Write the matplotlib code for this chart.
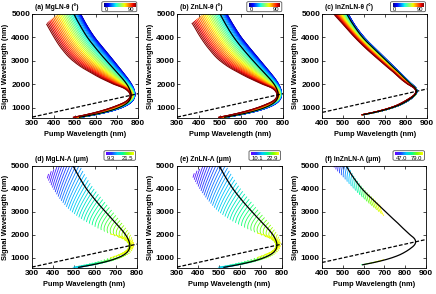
import numpy as np
import matplotlib
matplotlib.use("Agg")
import matplotlib.pyplot as plt
from matplotlib.patches import FancyBboxPatch
from matplotlib.colors import LinearSegmentedColormap

plt.rcParams['font.family'] = ['Liberation Sans', 'DejaVu Sans']

W, H = 436, 294

# ---------------- data ----------------
# upper-branch readings (signal nm -> pump nm); first entry = degeneracy point
mg_outer_sig = [1568, 2000, 2500, 3000, 3500, 4000, 4500, 5000, 5500]
mg_outer_pump = [784, 768, 728, 684, 638, 594, 558, 528, 500]
mg_inner_sig = [1522, 1800, 2000, 2500, 3000, 3500, 4000, 4573]
mg_inner_pump = [761, 738, 684, 575, 492, 440, 403, 367]
mg_black_sig = [1532, 2000, 2500, 3000, 3500, 4000, 4500, 5000, 5400]
mg_black_pump = [766, 746, 700, 650, 603, 560, 526, 496, 475]

zn_outer_sig = [1584, 2000, 2500, 3000, 3500, 4000, 4500, 5000, 5500]
zn_outer_pump = [792, 778, 738, 692, 646, 602, 566, 534, 506]
zn_inner_sig = [1540, 1800, 2000, 2500, 3000, 3500, 4000, 4600]
zn_inner_pump = [770, 752, 702, 588, 502, 450, 410, 370]
zn_black_sig = [1552, 2000, 2500, 3000, 3500, 4000, 4500, 5000, 5400]
zn_black_pump = [776, 757, 709, 658, 610, 567, 532, 502, 480]

in_outer_sig = [1704, 2000, 2500, 3000, 3500, 4000, 4500, 5000, 5500]
in_outer_pump = [852, 828, 771, 713, 655, 600, 557, 524, 495]
in_inner_sig = [1692, 2000, 2500, 3000, 3500, 4000, 4500, 5000, 5400]
in_inner_pump = [846, 808, 742, 676, 612, 555, 505, 455, 430]
in_black_sig = [1700, 2000, 2500, 3000, 3500, 4000, 4500, 5000, 5400]
in_black_pump = [850, 824, 766, 707, 648, 593, 551, 517, 495]

# relative position of each theta curve between theta=0 (outer) and theta=90 (inner)
theta_deg = [0, 3, 6, 9, 12, 15, 18, 21, 24, 27, 30, 33, 36, 39, 42, 45,
             48, 51, 54, 57, 60, 63, 66, 69, 72, 75, 78, 81, 84, 87, 90]
theta_frac = [0.0, 0.0014, 0.0055, 0.0123, 0.0219, 0.0341, 0.0489, 0.0664,
              0.0865, 0.109, 0.134, 0.1613, 0.191, 0.2229, 0.2569, 0.2929,
              0.3309, 0.3707, 0.4122, 0.4554, 0.5, 0.546, 0.5933, 0.6416,
              0.691, 0.7412, 0.7921, 0.8436, 0.8955, 0.9477, 1.0]

lam_ranges = {'d': (9.3, 21.5), 'e': (10.1, 22.9), 'f': (47.0, 79.0)}
sig_min = {'mg': 590, 'zn': 590, 'in': 700}

titles = ['(a) MgLN-θ (°)', '(b) ZnLN-θ (°)', '(c) InZnLN-θ (°)',
          '(d) MgLN-Λ (μm)', '(e) ZnLN-Λ (μm)', '(f) InZnLN-Λ (μm)']
xlims = [(300, 800), (300, 800), (400, 900), (300, 800), (300, 800), (400, 900)]
ylim = (560, 5000)


# ---------------- helpers ----------------
def pchip(xk, yk, x):
    xk = np.asarray(xk, float)
    yk = np.asarray(yk, float)
    h = np.diff(xk)
    d = np.diff(yk) / h
    n = len(xk)
    m = np.zeros(n)
    m[0], m[-1] = d[0], d[-1]
    for j in range(1, n - 1):
        if d[j - 1] * d[j] > 0:
            w1 = 2 * h[j] + h[j - 1]
            w2 = h[j] + 2 * h[j - 1]
            m[j] = (w1 + w2) / (w1 / d[j - 1] + w2 / d[j])
    x = np.clip(x, xk[0], xk[-1])
    idx = np.clip(np.searchsorted(xk, x) - 1, 0, n - 2)
    t = (x - xk[idx]) / h[idx]
    h00 = 2 * t ** 3 - 3 * t ** 2 + 1
    h10 = t ** 3 - 2 * t ** 2 + t
    h01 = -2 * t ** 3 + 3 * t ** 2
    h11 = t ** 3 - t ** 2
    return (h00 * yk[idx] + h10 * h[idx] * m[idx] + h01 * yk[idx + 1]
            + h11 * h[idx] * m[idx + 1])


def table(pump, sig):
    p = np.asarray(pump, float)
    s = np.asarray(sig, float)
    nu = 1000.0 / p
    d = nu / 2 - 1000.0 / s
    d[0] = 0.0
    return d, nu


def sample(tb, u):
    d, nu = tb
    D = u * d[-1]
    N = pchip(d ** 2, nu, D ** 2)
    return D, N


def blend(outer, inner, f, u):
    Do, No = sample(outer, u)
    Di, Ni = sample(inner, u)
    D = (1 - f) * Do + f * Di
    N = (1 - f) * No + f * Ni
    x = 1000.0 / N
    y = 1000.0 / (N / 2 - D)
    return x, y, N, D


def clean(x, y, N, D, smin, u):
    partner = 1000.0 / (N / 2 + np.abs(D))
    bad = (y < smin) | (partner < 400) | (np.abs(u) > 1.0)
    y = np.array(y, float)
    y[bad] = np.nan
    return x, y


edges = {
    'mg': (table(mg_outer_pump, mg_outer_sig), table(mg_inner_pump, mg_inner_sig),
           table(mg_black_pump, mg_black_sig)),
    'zn': (table(zn_outer_pump, zn_outer_sig), table(zn_inner_pump, zn_inner_sig),
           table(zn_black_pump, zn_black_sig)),
    'in': (table(in_outer_pump, in_outer_sig), table(in_inner_pump, in_inner_sig),
           table(in_black_pump, in_black_sig)),
}

lam_cmap = LinearSegmentedColormap.from_list(
    'lam', ['#6a00ff', '#1f3cff', '#00c8ff', '#00ff90', '#80ff00', '#ffff00'])
jet = plt.get_cmap('jet')

fig = plt.figure(figsize=(W / 100, H / 100), dpi=100)

rects = [(32.3, 138.3, 14, 118), (177.3, 283.3, 14, 118), (322.3, 427, 14, 118),
         (32, 137, 166, 268), (177, 282, 166, 268), (322, 426, 166, 268)]
keys = ['mg', 'zn', 'in', 'mg', 'zn', 'in']
letters = ['a', 'b', 'c', 'd', 'e', 'f']

u = np.linspace(-1, 1, 1601)

for i, (l, r, t, b) in enumerate(rects):
    ax = fig.add_axes([l / W, 1 - b / H, (r - l) / W, (b - t) / H])
    key = keys[i]
    outer, inner, black = edges[key]
    smin = sig_min[key]
    if i < 3:
        for th, fr in zip(theta_deg, theta_frac):
            x, y, N, D = blend(outer, inner, fr, u)
            x, y = clean(x, y, N, D, smin, u)
            ax.plot(x, y, color=jet(th / 90), lw=0.75, zorder=2)
    else:
        lo, hi = lam_ranges[letters[i]]
        if letters[i] == 'f':
            n_str, u_top, u_bot, tilt, pw = 26, 1.03, 0.45, 0.15, 1.0
        else:
            n_str, u_top, u_bot, tilt, pw = 44, 1.12, -0.12, 0.2, 1.3
        lam_levels = np.linspace(lo, hi, n_str)
        fs = np.linspace(0, 1, 40)
        for lam in lam_levels:
            c = (lam - lo) / (hi - lo)
            uc = u_bot + (u_top - u_bot) * (1 - c) ** (1 / pw)
            col = lam_cmap(c)
            uu = uc + tilt * (0.5 - fs)
            for sgn in (1, -1):
                x, y, N, D = blend(outer, inner, fs, sgn * uu)
                x, y = clean(x, y, N, D, smin, sgn * uu)
                ax.plot(x, y, color=col, lw=0.6, zorder=2)
    # black reference curve
    x, y, N, D = blend(black, black, 0.0, u)
    x, y = clean(x, y, N, D, smin, u)
    ax.plot(x, y, color='black', lw=0.9, zorder=4)
    # degeneracy line
    xl = xlims[i]
    dash_x = np.array(xl, float)
    ax.plot(dash_x, 2 * dash_x, color='black', lw=0.9, ls=(0, (3, 1.5)), zorder=5)
    ax.set_xlim(*xl)
    ax.set_ylim(*ylim)
    ax.set_xticks(np.arange(xl[0], xl[1] + 1, 100))
    ax.set_yticks([1000, 2000, 3000, 4000, 5000])
    ax.tick_params(direction='in', length=2, width=0.5, labelsize=6.0, pad=1.5,
                   top=True, right=True)
    for lab in ax.get_xticklabels() + ax.get_yticklabels():
        lab.set_fontweight('bold')
    for sp in ax.spines.values():
        sp.set_linewidth(0.6)
    ax.set_xlabel('Pump Wavelength (nm)', fontsize=5.3, fontweight='bold', labelpad=3)
    ax.set_ylabel('Signal Wavelength (nm)', fontsize=5.4, fontweight='bold', labelpad=1.5)
    fs_title = 4.8 if i < 3 else 4.9
    fig.text((l + 3) / W, 1 - (t - 6.5) / H, titles[i], fontsize=fs_title,
             fontweight='bold', ha='left', va='center')

    # inset colorbar box
    if i < 3:
        bx0, bx1, by0, by1 = r - 36.5, r - 1.5, 1.7, 11.7
        gy0, gy1 = 2.8, 6.8
        labs = ('0', '90')
        cm = jet
    else:
        lo, hi = lam_ranges[letters[i]]
        bx0, bx1, by0, by1 = r - 33, r - 1.5, 150.7, 160.3
        gy0, gy1 = 151.8, 155.3
        labs = ('%.1f' % lo, '%.1f' % hi)
        cm = lam_cmap
    box = FancyBboxPatch((bx0 / W, 1 - by1 / H), (bx1 - bx0) / W, (by1 - by0) / H,
                         boxstyle='round,pad=0,rounding_size=0.004',
                         transform=fig.transFigure, facecolor='white',
                         edgecolor='#555555', lw=0.6, zorder=10)
    fig.patches.append(box)
    cax = fig.add_axes([(bx0 + 2) / W, 1 - gy1 / H, (bx1 - bx0 - 4) / W, (gy1 - gy0) / H],
                       zorder=11)
    cax.imshow(np.linspace(0, 1, 256)[None, :], aspect='auto', cmap=cm)
    cax.set_axis_off()
    fig.text((bx0 + 2.5) / W, 1 - (by1 - 2.2) / H, labs[0], fontsize=4.2,
             ha='left', va='center', zorder=12)
    fig.text((bx1 - 2.5) / W, 1 - (by1 - 2.2) / H, labs[1], fontsize=4.2,
             ha='right', va='center', zorder=12)

fig.savefig('out.png', dpi=100)
